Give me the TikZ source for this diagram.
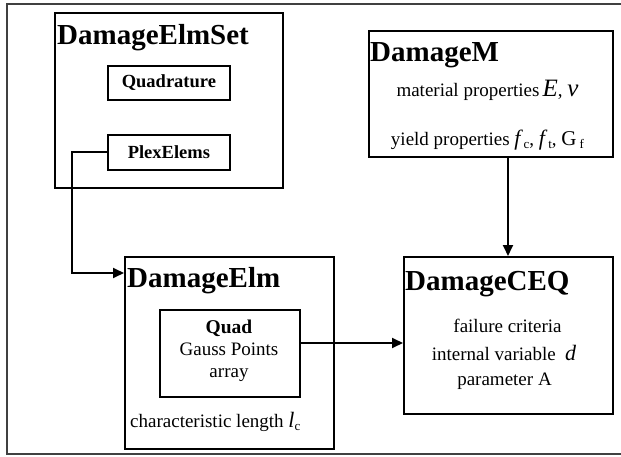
\documentclass[tikz,border=0pt]{standalone}
\usepackage{fontspec}
\setmainfont{Liberation Serif}
\usetikzlibrary{arrows.meta}
\newcommand\mbg{\fontsize{25}{28}\selectfont\itshape}
\newcommand\mvar{\fontsize{22}{26}\selectfont\itshape}
\newcommand\msb[1]{{\fontsize{13}{15}\selectfont\raisebox{-3pt}{#1}}}
\begin{document}
\begin{tikzpicture}[x=1pt,y=-1pt,
  box/.style={draw=black, line width=1.8pt, fill=white, inner sep=0pt, anchor=north west},
  ttl/.style={anchor=base west, inner sep=0pt, font=\fontsize{29}{32}\selectfont\bfseries},
  txt/.style={anchor=base, inner sep=0pt, font=\fontsize{19}{22}\selectfont},
  lbl/.style={font=\fontsize{18.5}{22}\selectfont\bfseries},
  arr/.style={line width=1.8pt, -{Triangle[length=11pt,width=10pt]}},
  frame/.style={line width=2pt, draw=black!75}]
\useasboundingbox (0,0) rectangle (621,457);
\draw[frame] (621,4) -- (7,4) -- (7,454) -- (621,454);

% boxes
\node[box, minimum width=228pt, minimum height=175pt] (des) at (54,12) {};
\node[box, lbl, minimum width=122pt, minimum height=34pt] (quadr) at (107,65) {Quadrature};
\node[box, lbl, minimum width=122pt, minimum height=35pt] (plex) at (107,134) {PlexElems};
\node[box, minimum width=244pt, minimum height=126pt] (dm) at (368,30) {};
\node[box, minimum width=209pt, minimum height=192pt] (delm) at (124,256) {};
\node[box, minimum width=140pt, minimum height=87pt] (quad) at (159,309) {};
\node[box, minimum width=209pt, minimum height=157pt] (ceq) at (403,256) {};

% titles
\node[ttl] (tdes) at (57,45) {DamageElmSet};
\node[ttl] (tdm) at (370,62) {DamageM};
\node[ttl] (tdelm) at (127,287) {DamageElm};
\node[ttl] (tceq) at (405,290) {DamageCEQ};

% DamageM text
\node[txt] (m1) at (487.5,97) {material properties\,{\mbg E}, {\mbg ν}};
\node[txt] (m2) at (487.5,146) {yield properties {\mvar f}\,\msb{c}, {\mvar f}\,\msb{t}, {\fontsize{21}{24}\selectfont G}\,\msb{f}};

% Quad text
\node[txt, font=\fontsize{19.5}{22}\selectfont\bfseries] (q1) at (229,333) {Quad};
\node[txt] (q2) at (229,355) {Gauss Points};
\node[txt] (q3) at (229,377) {array};

\node[txt, anchor=base west] (cl) at (130,427) {characteristic length {\mvar l}\msb{c}};

% DamageCEQ text
\node[txt] (c1) at (507.5,332) {failure criteria};
\node[txt] (c2) at (504,360) {internal variable \ {\mvar d}};
\node[txt] (c3) at (504.5,385) {parameter A};

% connectors
\coordinate (xp) at (72,0);
\coordinate (yq) at (0,343);
\coordinate (xa) at (508,0);
\draw[arr] (plex.west) -- (plex.west -| xp) |- ([yshift=-17pt]delm.north west);
\draw[arr] (quad.east |- yq) -- (ceq.west |- yq);
\draw[arr] (dm.south -| xa) -- (ceq.north -| xa);
\end{tikzpicture}
\end{document}
